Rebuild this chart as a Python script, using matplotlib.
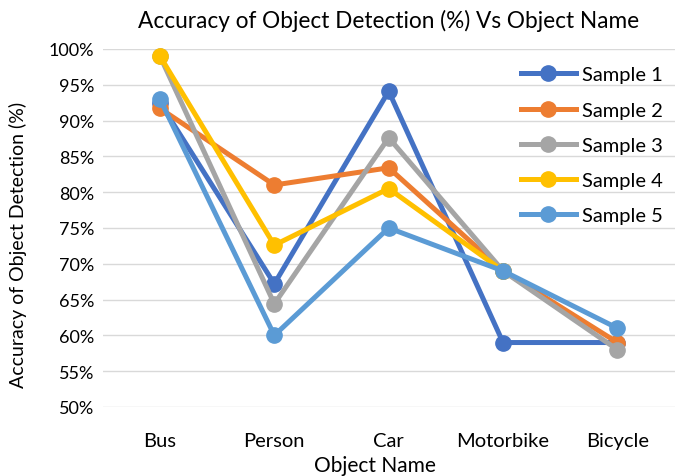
import matplotlib
matplotlib.use("Agg")
import matplotlib.pyplot as plt
from matplotlib.ticker import FuncFormatter

nan = float("nan")
categories = ["Bus", "Person", "Car", "Motorbike", "Bicycle"]
sample1 = [92.5, 67.2, 94.1, 59.0, 59.0]
sample2 = [91.7, 81.0, 83.4, 69.0, 59.0]
sample3 = [99.0, 64.4, 87.6, 69.0, 58.0]
sample4 = [99.0, 72.6, 80.5, 69.0, nan]
sample5 = [93.0, 60.0, 75.0, 69.0, 61.0]
series_names = ["Sample 1", "Sample 2", "Sample 3", "Sample 4", "Sample 5"]
colors = ["#4472C4", "#ED7D31", "#A5A5A5", "#FFC000", "#5B9BD5"]

plt.rcParams['font.family'] = ['Lato', 'DejaVu Sans']

fig = plt.figure(figsize=(6.76, 4.77), dpi=100)
ax = fig.add_axes([0.152, 0.1447, 0.846, 0.7506])

x = list(range(len(categories)))
for name, vals, c in zip(series_names, [sample1, sample2, sample3, sample4, sample5], colors):
    ax.plot(x, vals, color=c, lw=3.6, marker='o', markersize=11, label=name,
            solid_joinstyle='round', clip_on=False)

ax.set_xlim(-0.5, len(categories) - 0.5)
ax.set_ylim(50, 100)
ax.set_yticks(range(50, 101, 5))
ax.yaxis.set_major_formatter(FuncFormatter(lambda v, p: f"{int(v)}%"))
ax.set_xticks(x)
ax.set_xticklabels(categories)
ax.grid(axis='y', color='#D9D9D9', lw=1)
ax.set_axisbelow(True)
for s in ax.spines.values():
    s.set_visible(False)
ax.tick_params(axis='y', length=0, labelsize=13, colors='#000000', pad=6)
ax.tick_params(axis='x', length=0, labelsize=14.5, colors='#000000', pad=18)

ax.set_title("Accuracy of Object Detection (%) Vs Object Name", fontsize=16.3, pad=16)
ax.set_xlabel("Object Name", fontsize=15)
ax.set_ylabel("Accuracy of Object Detection (%)", fontsize=14)
ax.xaxis.set_label_coords(0.4755, -0.135)
ax.yaxis.set_label_coords(-0.133, 0.455)

leg = ax.legend(loc='upper right', bbox_to_anchor=(1.0, 0.985), frameon=False, fontsize=14.5,
                handlelength=2.7, labelspacing=0.9, handletextpad=0.3, borderaxespad=0.2)

fig.savefig("out.png", dpi=100)
